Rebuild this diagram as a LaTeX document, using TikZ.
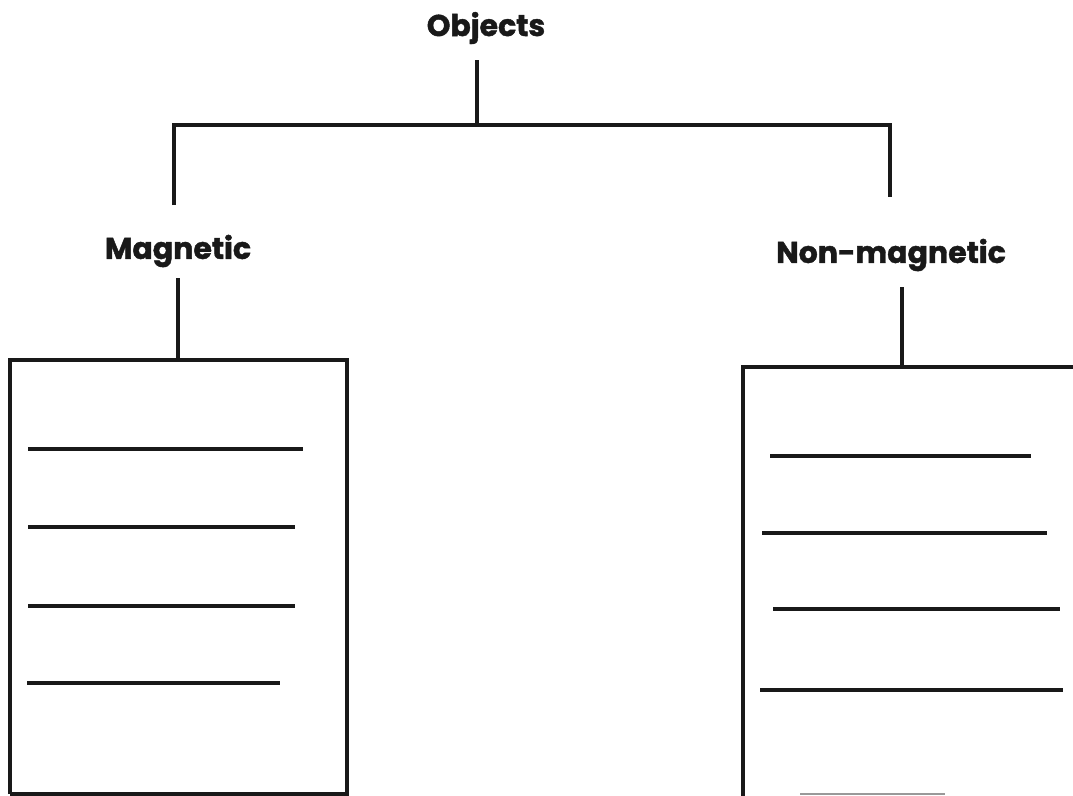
\documentclass[tikz,border=0pt]{standalone}
\usepackage{fontspec}
\setmainfont{Poppins}[UprightFont=* Bold, FakeBold=1.5]
\tikzset{
  lbl/.style={font=\fontsize{30}{34}\selectfont, inner sep=0pt, text=black!90},
  ln/.style={line width=3.4pt, black!90},
  boxln/.style={line width=3.2pt, black!90},
}
\begin{document}
\begin{tikzpicture}[x=1pt,y=-1pt]
\useasboundingbox (0,0) rectangle (1073,795);
% labels
\node[lbl] (obj) at (486,28) {Objects};
\node[lbl] (mag) at (178,251) {Magnetic};
\node[lbl] (non) at (891,255) {Non-magnetic};
% tree connectors
\coordinate (objtop) at (477,60);
\coordinate (objbot) at (477,125);
\coordinate (jl) at (174,125);
\coordinate (jr) at (890,125);
\coordinate (jlb) at (174,205);
\coordinate (jrb) at (890,197);
\draw[ln] (objtop) -- (objbot);
\draw[ln] (jlb) -- (jl) -- (jr) -- (jrb);
% box links
\coordinate (magt) at (178,278);
\coordinate (magb) at (178,360);
\coordinate (nont) at (902,287);
\coordinate (nonb) at (902,366);
\draw[ln] (magt) -- (magb);
\draw[ln] (nont) -- (nonb);
% left box
\coordinate (lb1) at (10,360);
\coordinate (lb2) at (347,360);
\coordinate (lb3) at (347,794);
\coordinate (lb4) at (10,794);
\draw[boxln] (lb4) -- (lb1) -- (lb2) -- (lb3) -- (lb4);
% right box (runs past the page edge)
\coordinate (rb1) at (743,367);
\coordinate (rb2) at (1075,367);
\coordinate (rb4) at (743,796);
\coordinate (rb5) at (800,794);
\coordinate (rb6) at (945,794);
\draw[boxln] (rb4) -- (rb1) -- (rb2);
\draw[line width=1.2pt, black!40] (rb5) -- (rb6);
% left lines
\foreach \i/\y/\a/\b in {1/449/28/303, 2/527/28/295, 3/606/28/295, 4/683/27/280}{
  \coordinate (la\i) at (\a,\y);
  \coordinate (lz\i) at (\b,\y);
  \draw[ln] (la\i) -- (lz\i);
}
% right lines
\foreach \i/\y/\a/\b in {1/456/770/1031, 2/533/762/1047, 3/609/773/1060, 4/690/760/1063}{
  \coordinate (ra\i) at (\a,\y);
  \coordinate (rz\i) at (\b,\y);
  \draw[ln] (ra\i) -- (rz\i);
}
\end{tikzpicture}
\end{document}
